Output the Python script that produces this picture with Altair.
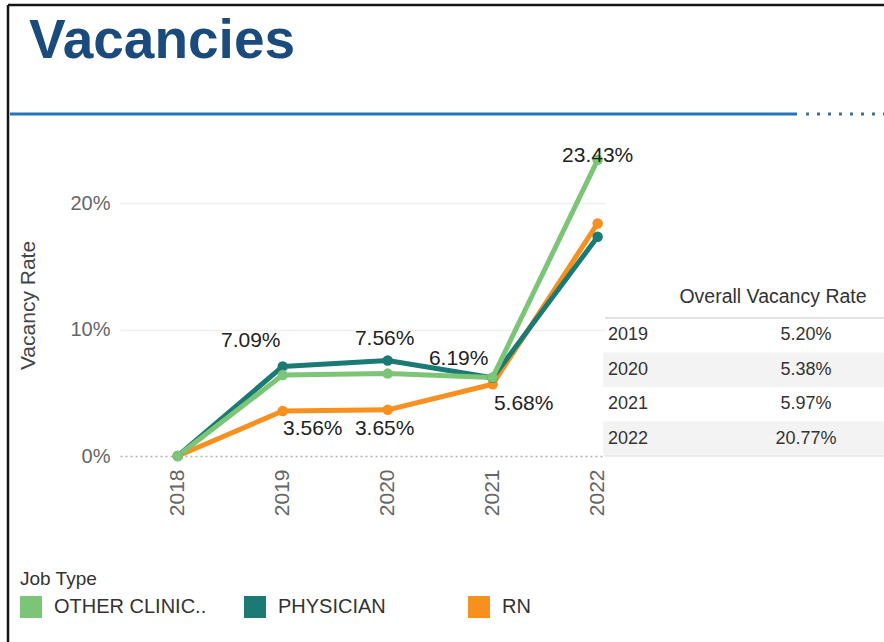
import altair as alt
import pandas as pd

# ---------------- data ----------------
years = [2018, 2019, 2020, 2021, 2022]
job_types = ["OTHER CLINICAL", "PHYSICIAN", "RN"]
other_clinical = [0.0, 0.0640, 0.0652, 0.0622, 0.2343]
physician = [0.0, 0.0709, 0.0756, 0.0619, 0.1735]
rn = [0.0, 0.0356, 0.0365, 0.0568, 0.1840]

table_years = ["2019", "2020", "2021", "2022"]
overall_rate = [0.0520, 0.0538, 0.0597, 0.2077]

# which points carry a data label
label_points = [("PHYSICIAN", 2019), ("PHYSICIAN", 2020), ("PHYSICIAN", 2021),
                ("RN", 2019), ("RN", 2020), ("RN", 2021), ("OTHER CLINICAL", 2022)]

# ---------------- styles ----------------
FONT = "Liberation Sans"
colors = ["#7cc576", "#1b7b74", "#f7901e"]
label_offsets = [(-32, -25), (-3, -21), (-34, -19), (30, 18), (-3, 19), (31, 20), (0, -4)]

W, H = 485, 316
PAD = {"left": 120, "top": 140, "right": 279, "bottom": 186}

series = {"OTHER CLINICAL": other_clinical, "PHYSICIAN": physician, "RN": rn}
draw_order = ["RN", "PHYSICIAN", "OTHER CLINICAL"]
df = pd.DataFrame(
    [{"job": j, "year": y, "rate": v} for j in draw_order for y, v in zip(years, series[j])]
)

tbl = pd.DataFrame({"year": table_years, "rate": overall_rate,
                    "shade": [i % 2 == 1 for i in range(len(table_years))]})

one = pd.DataFrame({"k": [0]})

x_axis = alt.Axis(values=years, format="d", labelAngle=270, labelFontSize=21,
                  labelColor="#666666", labelPadding=13, grid=False, domain=False,
                  ticks=False, title=None, labelFont=FONT)
xs = alt.X("year:Q", scale=alt.Scale(domain=[2017.45, 2022.07], nice=False, zero=False),
           axis=x_axis)
ys_scale = alt.Scale(domain=[0, 0.25], nice=False)
y_axis = alt.Axis(values=[0, 0.1, 0.2], format=".0%", labelFontSize=20,
                  labelColor="#666666", labelPadding=10, domain=False, ticks=False,
                  grid=True,
                  gridColor=alt.condition("datum.value === 0", alt.value("#b0b0b0"), alt.value("#f0f0f0")),
                  gridDash=alt.condition("datum.value === 0", alt.value([2, 3]), alt.value([])),
                  gridWidth=1.5,
                  title="Vacancy Rate", titleFontSize=21, titleColor="#444444",
                  titleFontWeight="normal", titleX=-92, titleY=165,
                  titleBaseline="middle", titleAlign="center", labelFont=FONT,
                  titleFont=FONT)
ys = alt.Y("rate:Q", scale=ys_scale, axis=y_axis)
color_scale = alt.Scale(domain=job_types, range=colors)

legend = alt.Legend(orient="none", legendX=-100, legendY=430,
                    direction="horizontal", columns=3, gridAlign="all",
                    columnPadding=37, labelOffset=12,
                    symbolType="square", symbolSize=484,
                    symbolStrokeWidth=0, symbolOpacity=1,
                    labelFontSize=20, titleFontSize=19,
                    titleFontWeight="normal", titleColor="#333333",
                    labelColor="#333333", titlePadding=7,
                    labelFont=FONT, titleFont=FONT,
                    labelExpr="datum.label == 'OTHER CLINICAL' ? 'OTHER CLINIC..' : datum.label")
col = alt.Color("job:N", scale=color_scale, title="Job Type", legend=legend)

base = alt.Chart(df)

lines = base.mark_line(strokeWidth=5, strokeCap="round", strokeJoin="round").encode(
    x=xs, y=ys, color=col
)

points = base.mark_point(filled=True, size=110, opacity=1).encode(
    x=xs, y=ys, color=col
)

label_layers = []
for (job, yr), (dx, dy) in zip(label_points, label_offsets):
    label_layers.append(
        base.transform_filter((alt.datum.job == job) & (alt.datum.year == yr))
        .mark_text(dx=dx, dy=dy, fontSize=21, color="#222222", font=FONT, baseline="middle")
        .encode(x=xs, y=ys, text=alt.Text("rate:Q", format=".2%"))
    )

main = alt.layer(lines, points, *label_layers)

# ---------------- table ----------------
ty = alt.Y("year:O", scale=alt.Scale(domain=table_years, range=[178, 316], paddingInner=0,
                                     paddingOuter=0), axis=None)
tbase = alt.Chart(tbl)
shade = tbase.transform_filter(alt.datum.shade).mark_rect(color="#f3f3f3").encode(
    x=alt.value(483), x2=alt.value(764), y=ty)
t_year = tbase.mark_text(align="left", fontSize=18, color="#333333", font=FONT).encode(
    x=alt.value(488), y=ty, text="year:N")
t_val = tbase.mark_text(align="center", fontSize=18, color="#333333", font=FONT).encode(
    x=alt.value(686), y=ty, text=alt.Text("rate:Q", format=".2%"))
table = alt.layer(shade, t_year, t_val)

dec = alt.Chart(one)
header = dec.mark_text(text="Overall Vacancy Rate", fontSize=19.5, color="#333333",
                       font=FONT, align="center", baseline="middle").encode(
    x=alt.value(653), y=alt.value(157))
header_line = dec.mark_rule(color="#e2e2e2", strokeWidth=2).encode(
    x=alt.value(485), x2=alt.value(764), y=alt.value(178))
bottom_line = dec.mark_rule(color="#e6e6e6", strokeWidth=1.5).encode(
    x=alt.value(485), x2=alt.value(764), y=alt.value(316))

title = dec.mark_text(text="Vacancies", fontSize=55, fontWeight="bold", color="#1b4b7d",
                      font=FONT, align="left", baseline="alphabetic").encode(
    x=alt.value(-91), y=alt.value(-82))
blue_rule = dec.mark_rule(color="#2673b8", strokeWidth=3).encode(
    x=alt.value(-110), x2=alt.value(677), y=alt.value(-26))
dotted_rule = dec.mark_rule(color="#3d6f9a", strokeWidth=3, strokeDash=[3, 8]).encode(
    x=alt.value(686), x2=alt.value(764), y=alt.value(-26))
frame_top = dec.mark_rule(color="#151515", strokeWidth=2.5).encode(
    x=alt.value(-112), x2=alt.value(764), y=alt.value(-135))
frame_left = dec.mark_rule(color="#151515", strokeWidth=2.5).encode(
    x=alt.value(-112), y=alt.value(-135), y2=alt.value(502))

chart = alt.layer(
    main, table, header, header_line, bottom_line, title, blue_rule, dotted_rule,
    frame_top, frame_left
).resolve_scale(y="independent").properties(
    width=W, height=H, padding=PAD, autosize=alt.AutoSizeParams(type="none"),
    background="white"
).configure(font=FONT).configure_view(strokeWidth=0, stroke="transparent")

chart.save("out.html", embed_options={"renderer": "svg", "actions": False})
